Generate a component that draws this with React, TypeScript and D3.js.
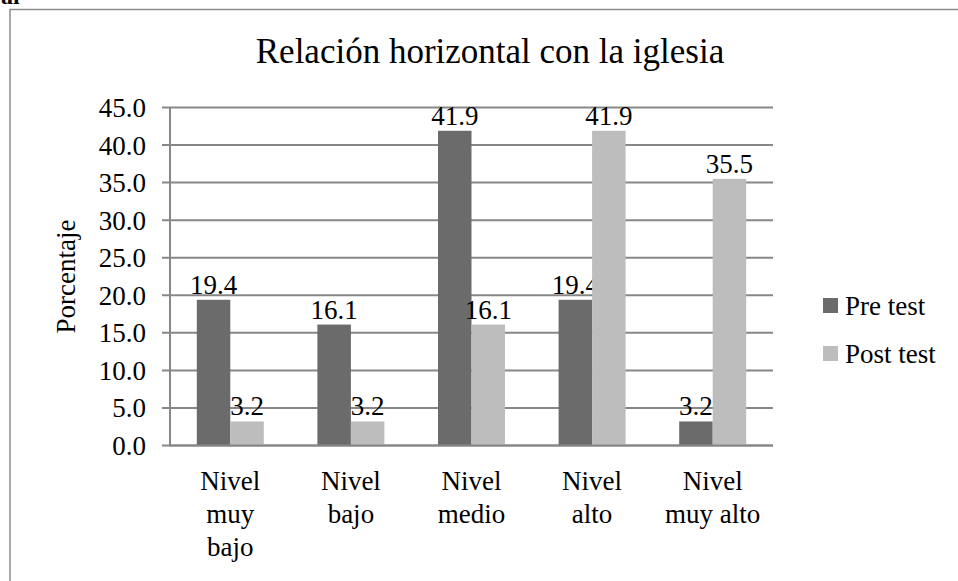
import { scaleBand, scaleLinear, select } from 'd3'
import { useEffect, useRef } from 'react'

const categories = ['Nivel muy bajo', 'Nivel bajo', 'Nivel medio', 'Nivel alto', 'Nivel muy alto']
const categoryLines = [['Nivel', 'muy', 'bajo'], ['Nivel', 'bajo'], ['Nivel', 'medio'], ['Nivel', 'alto'], ['Nivel', 'muy alto']]
const seriesNames = ['Pre test', 'Post test']
const preTest = [19.4, 16.1, 41.9, 19.4, 3.2]
const postTest = [3.2, 3.2, 16.1, 41.9, 35.5]
const yTicks = [0, 5, 10, 15, 20, 25, 30, 35, 40, 45]

const FONT = '"Liberation Serif", "Times New Roman", serif'
const colors = ['#6b6b6b', '#bdbdbd']

export default function App() {
  const svgRef = useRef<SVGSVGElement>(null)

  useEffect(() => {
    const svg = select(svgRef.current)
    svg.selectAll('*').remove()

    const left = 170
    const right = 773
    const top = 107.5
    const bottom = 445.5

    // cut-off text from the page above
    svg.append('text').attr('x', 1).attr('y', 4).attr('font-family', FONT)
      .attr('font-size', 24).attr('font-weight', 'bold').attr('fill', '#000').text('al')

    // chart border
    svg.append('rect').attr('x', 10).attr('y', 9.5).attr('width', 980).attr('height', 600)
      .attr('fill', 'none').attr('stroke', '#8c8c8c').attr('stroke-width', 1.5)

    svg.append('text').attr('x', 490).attr('y', 63).attr('text-anchor', 'middle')
      .attr('font-family', FONT).attr('font-size', 35).text('Relación horizontal con la iglesia')

    const y = scaleLinear().domain([0, 45]).range([bottom, top])
    const x = scaleBand().domain(categories).range([left, right]).padding(0)
    const xs = scaleBand().domain(seriesNames).range([0, x.bandwidth()]).paddingInner(0).paddingOuter(0.8)

    // gridlines + ticks
    svg.append('g').selectAll('line').data(yTicks).enter().append('line')
      .attr('x1', left - 8).attr('x2', right)
      .attr('y1', (d) => y(d)).attr('y2', (d) => y(d))
      .attr('stroke', '#878787').attr('stroke-width', 2)

    svg.append('g').selectAll('text').data(yTicks).enter().append('text')
      .attr('x', 146).attr('y', (d) => y(d) + 9.5).attr('text-anchor', 'end')
      .attr('font-family', FONT).attr('font-size', 27).text((d) => d.toFixed(1))

    // y axis line
    svg.append('line').attr('x1', left).attr('x2', left).attr('y1', top).attr('y2', bottom)
      .attr('stroke', '#878787').attr('stroke-width', 2)

    svg.append('text').attr('transform', `translate(75,${(top + bottom) / 2}) rotate(-90)`)
      .attr('text-anchor', 'middle').attr('font-family', FONT).attr('font-size', 27).text('Porcentaje')

    const series = [preTest, postTest]
    series.forEach((values, si) => {
      const g = svg.append('g')
      g.selectAll('rect').data(values).enter().append('rect')
        .attr('x', (_d, i) => (x(categories[i]) as number) + (xs(seriesNames[si]) as number))
        .attr('y', (d) => y(d)).attr('width', xs.bandwidth()).attr('height', (d) => bottom - y(d))
        .attr('fill', colors[si])
      g.selectAll('text').data(values).enter().append('text')
        .attr('x', (_d, i) => (x(categories[i]) as number) + (xs(seriesNames[si]) as number) + xs.bandwidth() / 2)
        .attr('y', (d) => y(d) - 6).attr('text-anchor', 'middle')
        .attr('font-family', FONT).attr('font-size', 27).text((d) => d.toFixed(1))
    })

    // x axis baseline
    svg.append('line').attr('x1', left - 1).attr('x2', right).attr('y1', bottom).attr('y2', bottom)
      .attr('stroke', '#878787').attr('stroke-width', 2)

    // category labels
    categoryLines.forEach((lines, i) => {
      const cx = (x(categories[i]) as number) + x.bandwidth() / 2
      lines.forEach((line, li) => {
        svg.append('text').attr('x', cx).attr('y', 490 + li * 33).attr('text-anchor', 'middle')
          .attr('font-family', FONT).attr('font-size', 27).text(line)
      })
    })

    // legend
    seriesNames.forEach((name, i) => {
      svg.append('rect').attr('x', 823).attr('y', 298 + i * 48).attr('width', 15).attr('height', 15)
        .attr('fill', colors[i])
      svg.append('text').attr('x', 845).attr('y', 315 + i * 48)
        .attr('font-family', FONT).attr('font-size', 27).text(name)
    })
  }, [])

  return (
    <svg ref={svgRef} width={958} height={581}
      style={{ position: 'absolute', left: 0, top: 0, background: '#fff' }} />
  )
}
